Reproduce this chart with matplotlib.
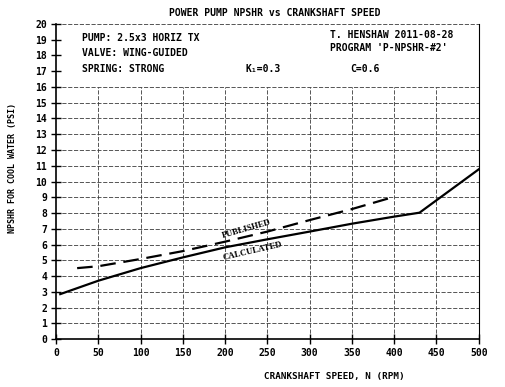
import matplotlib
matplotlib.use("Agg")
import matplotlib.pyplot as plt

# data
calc_x = [5, 50, 100, 150, 200, 250, 300, 350, 400, 430, 500]
calc_y = [2.85, 3.7, 4.5, 5.18, 5.82, 6.33, 6.82, 7.32, 7.77, 8.02, 10.77]
pub_x = [25, 50, 100, 150, 200, 250, 300, 350, 400]
pub_y = [4.5, 4.62, 5.08, 5.58, 6.18, 6.82, 7.55, 8.25, 9.03]
x_ticks = [0, 50, 100, 150, 200, 250, 300, 350, 400, 450, 500]
y_ticks = list(range(0, 21))

title = "POWER PUMP NPSHR vs CRANKSHAFT SPEED"
xlabel = "CRANKSHAFT SPEED, N (RPM)"
ylabel = "NPSHR FOR COOL WATER (PSI)"

mono = "DejaVu Sans Mono"
fig = plt.figure(figsize=(5.06, 3.87), dpi=100)
ax = fig.add_axes([0.1107, 0.124, 0.946 - 0.1107, 0.938 - 0.124])
ax.set_xlim(0, 500)
ax.set_ylim(0, 20)

gstyle = dict(color="#3a3a3a", lw=0.6, linestyle=(0, (5, 2)))
for y in range(1, 17):
    ax.plot([0, 500], [y, y], **gstyle, zorder=1)
for x in x_ticks[1:-1]:
    ax.plot([x, x], [0, 16], **gstyle, zorder=1)
ax.plot([0, 500], [20, 20], **gstyle, zorder=1)

ax.spines["top"].set_visible(False)
ax.spines["left"].set_linewidth(1.2)
ax.spines["bottom"].set_linewidth(1.2)
ax.spines["right"].set_linewidth(0.8)

ax.plot(calc_x, calc_y, color="black", lw=1.6, zorder=3)
ax.plot(pub_x, pub_y, color="black", lw=1.6, linestyle=(0, (7, 3.5)), zorder=3)

ax.set_xticks(x_ticks)
ax.set_yticks(y_ticks)
ax.set_xticklabels([str(v) for v in x_ticks], fontfamily=mono, fontweight="bold", fontsize=7)
ax.set_yticklabels([str(v) for v in y_ticks], fontfamily=mono, fontweight="bold", fontsize=7)
ax.tick_params(direction="inout", length=7, width=1.0, pad=3)

bt = dict(fontfamily=mono, fontweight="bold", fontsize=7, va="center", ha="left")
ax.text(31, 19.1, "PUMP: 2.5x3 HORIZ TX", **bt)
ax.text(31, 18.15, "VALVE: WING-GUIDED", **bt)
ax.text(31, 17.14, "SPRING: STRONG", **bt)
ax.text(224, 17.14, "K\u2081=0.3", **bt)
ax.text(348, 17.14, "C=0.6", **bt)
ax.text(324, 19.3, "T. HENSHAW 2011-08-28", **bt)
ax.text(324, 18.46, "PROGRAM 'P-NPSHR-#2'", **bt)

ax.text(226, 6.95, "PUBLISHED", fontfamily="Liberation Serif", fontweight="bold",
        fontsize=6.3, rotation=16, ha="center", va="center")
ax.text(233, 5.6, "CALCULATED", fontfamily="Liberation Serif", fontweight="bold",
        fontsize=6.3, rotation=13, ha="center", va="center")

fig.text(0.543, 0.966, title, fontfamily=mono, fontweight="bold", fontsize=7, ha="center", va="center")
fig.text(0.661, 0.028, xlabel, fontfamily=mono, fontweight="bold", fontsize=6.7, ha="center", va="center")
fig.text(0.024, 0.566, ylabel, fontfamily=mono, fontweight="bold", fontsize=6, ha="center", va="center",
         rotation=90)

fig.savefig("out.png", dpi=100)
